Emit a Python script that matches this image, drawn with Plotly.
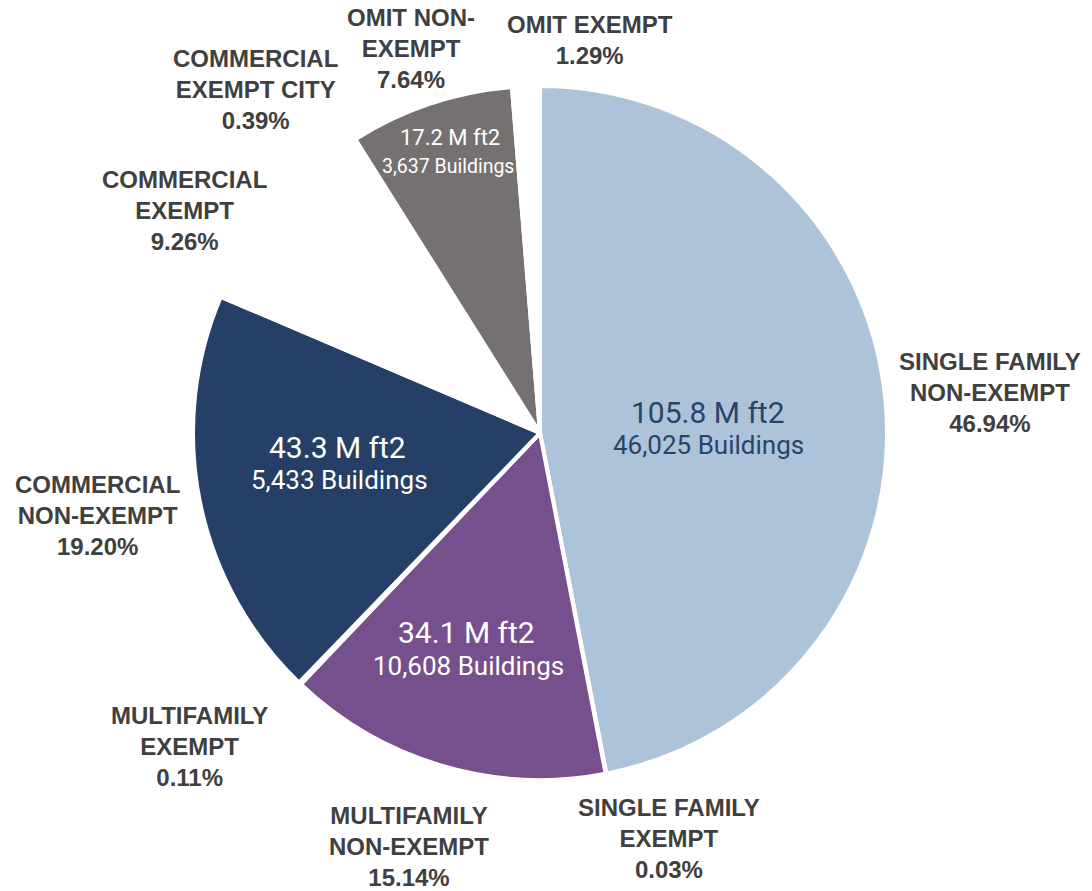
import plotly.graph_objects as go

# ---- data ----
categories = [
    "SINGLE FAMILY<br>NON-EXEMPT",
    "SINGLE FAMILY<br>EXEMPT",
    "MULTIFAMILY<br>NON-EXEMPT",
    "MULTIFAMILY<br>EXEMPT",
    "COMMERCIAL<br>NON-EXEMPT",
    "COMMERCIAL<br>EXEMPT",
    "COMMERCIAL<br>EXEMPT CITY",
    "OMIT NON-<br>EXEMPT",
    "OMIT EXEMPT",
]
shares = [46.94, 0.03, 15.14, 0.11, 19.20, 9.26, 0.39, 7.64, 1.29]
area_mft2 = [105.8, None, 34.1, None, 43.3, None, None, 17.2, None]
buildings = [46025, None, 10608, None, 5433, None, None, 3637, None]

colors = ["#adc3da", "#ffffff", "#764f8d", "#ffffff", "#253f66",
          "#ffffff", "#ffffff", "#767171", "#ffffff"]

W, H = 1092, 891

# label positions (pixel centres) - layout only
label_pos = [(990, 392), (669, 838), (409, 846), (189, 746), (97, 515),
             (184, 210), (255, 90), (411, 49), (590, 40)]
inner_pos = {0: ((708, 412), (708, 445)),
             2: ((466, 632), (468, 666)),
             4: ((337, 447), (339, 480)),
             7: ((450, 138), (448, 166))}
inner_sizes = {0: (30, 26), 2: (30, 26), 4: (30, 26), 7: (22, 19.5)}
inner_colors = {0: "#2a4468", 2: "white", 4: "white", 7: "white"}

cx, cy, r = 540, 433, 347

fig = go.Figure(go.Pie(
    labels=[c.replace("<br>", " ") for c in categories],
    values=shares,
    sort=False,
    direction="clockwise",
    rotation=0,
    textinfo="none",
    hoverinfo="label+percent",
    marker=dict(colors=colors, line=dict(color="white", width=4)),
    domain=dict(x=[(cx - r) / W, (cx + r) / W],
                y=[(H - cy - r) / H, (H - cy + r) / H]),
    showlegend=False,
))

annotations = []
for i, cat in enumerate(categories):
    x, y = label_pos[i]
    annotations.append(dict(
        x=x / W, y=1 - y / H, xref="paper", yref="paper",
        xanchor="center", yanchor="middle", showarrow=False,
        text=f"{cat}<br>{shares[i]:.2f}%", align="center",
        font=dict(family="Liberation Sans, Arial, sans-serif", size=24,
                  color="#404040", weight="bold"),
    ))

for i, (p1, p2) in inner_pos.items():
    s1, s2 = inner_sizes[i]
    col = inner_colors[i]
    annotations.append(dict(
        x=p1[0] / W, y=1 - p1[1] / H, xref="paper", yref="paper",
        xanchor="center", yanchor="middle", showarrow=False,
        text=f"{area_mft2[i]:.1f} M ft2",
        font=dict(family="Roboto, sans-serif", size=s1, color=col),
    ))
    annotations.append(dict(
        x=p2[0] / W, y=1 - p2[1] / H, xref="paper", yref="paper",
        xanchor="center", yanchor="middle", showarrow=False,
        text=f"{buildings[i]:,} Buildings",
        font=dict(family="Roboto, sans-serif", size=s2, color=col),
    ))

fig.update_layout(
    width=W, height=H,
    margin=dict(l=0, r=0, t=0, b=0),
    paper_bgcolor="white", plot_bgcolor="white",
    annotations=annotations,
)

fig.write_html(
    "out.html",
    config={"displayModeBar": False},
    post_script="document.documentElement.style.margin='0';"
                "document.body.style.margin='0';"
                "document.body.style.overflow='hidden';",
)
